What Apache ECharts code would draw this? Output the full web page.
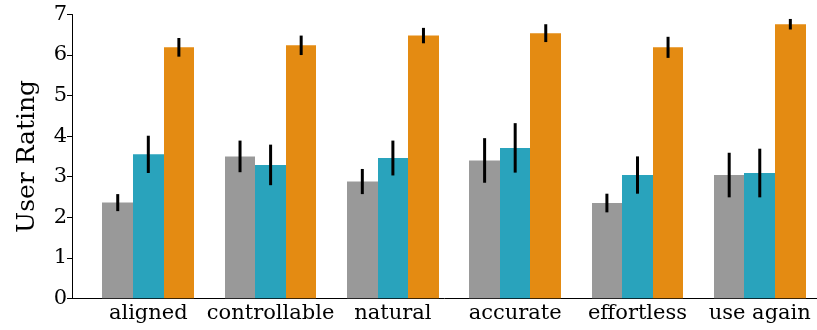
<!DOCTYPE html>
<html>
<head>
<meta charset="utf-8">
<script src="https://cdn.jsdelivr.net/npm/echarts@6/dist/echarts.min.js"></script>
<style>
  html, body { margin: 0; padding: 0; background: #fff; }
  #chart { width: 817px; height: 330px; }
</style>
</head>
<body>
<div id="chart"></div>
<script>
// Rating categories along the x axis
const categories = ['aligned', 'controllable', 'natural', 'accurate', 'effortless', 'use again'];

// Mean ratings and error half-widths for each condition
const grayMeans   = [2.36, 3.50, 2.88, 3.40, 2.35, 3.04];
const grayErr     = [0.21, 0.39, 0.31, 0.55, 0.23, 0.55];
const tealMeans   = [3.55, 3.29, 3.46, 3.71, 3.04, 3.09];
const tealErr     = [0.46, 0.50, 0.43, 0.61, 0.46, 0.60];
const orangeMeans = [6.19, 6.24, 6.48, 6.54, 6.19, 6.76];
const orangeErr   = [0.23, 0.24, 0.19, 0.22, 0.26, 0.13];

// Y axis tick values
const yTicks = [0, 1, 2, 3, 4, 5, 6, 7];

const FONT = 'DejaVu Serif';
const BAR_W = 0.25;

const groups = [
  { means: grayMeans,   errs: grayErr,   color: '#999999', offset: -BAR_W },
  { means: tealMeans,   errs: tealErr,   color: '#29a3bc', offset: 0 },
  { means: orangeMeans, errs: orangeErr, color: '#e48b12', offset: BAR_W }
];

function barSeries(g) {
  return {
    type: 'custom',
    data: g.means.map((m, i) => [i, m]),
    clip: false,
    renderItem: function (params, api) {
      const i = api.value(0), v = api.value(1);
      const tl = api.coord([i + g.offset - BAR_W / 2, v]);
      const br = api.coord([i + g.offset + BAR_W / 2, 0]);
      // snap vertical edges to whole pixels so adjacent bars meet without seams
      const x0 = Math.round(tl[0]), x1 = Math.round(br[0]);
      return {
        type: 'rect',
        shape: { x: x0, y: tl[1], width: x1 - x0, height: br[1] - tl[1] },
        style: { fill: g.color }
      };
    },
    z: 2
  };
}

function errSeries(g) {
  return {
    type: 'custom',
    data: g.means.map((m, i) => [i, m, g.errs[i]]),
    clip: false,
    renderItem: function (params, api) {
      const i = api.value(0), v = api.value(1), e = api.value(2);
      const lo = api.coord([i + g.offset, v - e]);
      const hi = api.coord([i + g.offset, v + e]);
      return {
        type: 'line',
        shape: { x1: lo[0], y1: lo[1], x2: hi[0], y2: hi[1] },
        style: { stroke: '#000', lineWidth: 3, lineCap: 'butt' }
      };
    },
    z: 3
  };
}

const chart = echarts.init(document.getElementById('chart'), null, { renderer: 'canvas' });

chart.setOption({
  animation: false,
  backgroundColor: '#fff',
  grid: { left: 72, right: 0, top: 14.5, bottom: 31.7, containLabel: false },
  xAxis: {
    type: 'value',
    min: -0.624,
    max: 5.468,
    splitLine: { show: false },
    axisLine: { show: true, onZero: false, lineStyle: { color: '#000', width: 1 } },
    axisTick: { show: false },
    axisLabel: {
      customValues: categories.map((c, i) => i),
      formatter: v => categories[Math.round(v)] || '',
      color: '#000',
      fontFamily: FONT,
      fontSize: 21,
      margin: 5
    }
  },
  yAxis: {
    type: 'value',
    min: 0,
    max: 7,
    interval: 1,
    name: 'User Rating',
    nameLocation: 'middle',
    nameGap: 32,
    nameTextStyle: { fontFamily: FONT, fontSize: 25, color: '#000' },
    splitLine: { show: false },
    axisLine: { show: true, onZero: false, lineStyle: { color: '#000', width: 1 } },
    axisTick: { show: true, length: 5, lineStyle: { color: '#000' } },
    axisLabel: {
      customValues: yTicks,
      color: '#000',
      fontFamily: FONT,
      fontSize: 21,
      margin: 5
    }
  },
  series: groups.map(barSeries).concat(groups.map(errSeries))
});
</script>
</body>
</html>
